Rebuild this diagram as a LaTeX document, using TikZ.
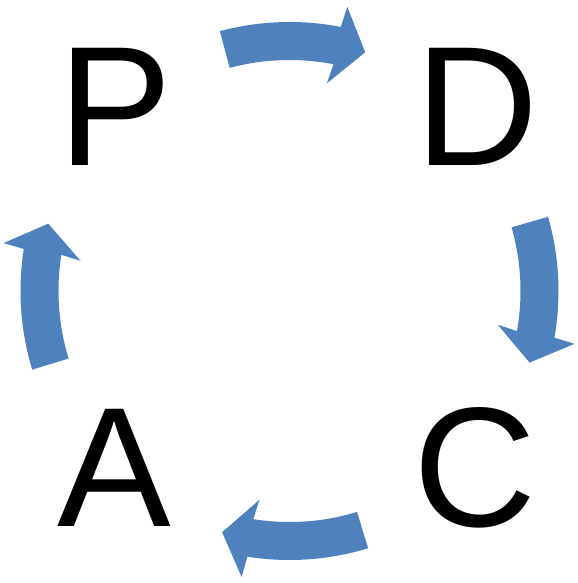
\documentclass[tikz,border=0pt]{standalone}
\usepackage{fontspec}
\setmainfont{Liberation Sans}
\usetikzlibrary{positioning}
\definecolor{cycleblue}{RGB}{79,129,189}

\begin{document}
\begin{tikzpicture}[x=0.02cm, y=0.02cm, every node/.style={font=\fontsize{97pt}{97pt}\selectfont, inner sep=0pt, anchor=base}]
    % Define styles with \tikzset
    \tikzset{
        flow/.style={fill=cycleblue, draw=none}
    }
    \useasboundingbox (0,0) rectangle (578,583);
    \coordinate (ctr) at (289.5,292);

    % --- PDCA LETTERS ---
    \node (P) at (115,418) {P};
    \node (D) at (477.5,418) {D};
    \node (C) at (475,56) {C};
    \node (A) at (114.5,56) {A};

    % --- CURVED ARROWS (one per quarter) ---
    \foreach \r in {0,-89,-178,-268} {
        \begin{scope}[shift={(ctr)}, rotate=\r]
            \fill[flow] (105:269) arc[start angle=105, end angle=79, radius=269]
                -- (78.5:290) -- (72.4:250.5) -- (79.8:211)
                -- (79:231) arc[start angle=79, end angle=105, radius=231] -- cycle;
        \end{scope}
    }

\end{tikzpicture}
\end{document}
